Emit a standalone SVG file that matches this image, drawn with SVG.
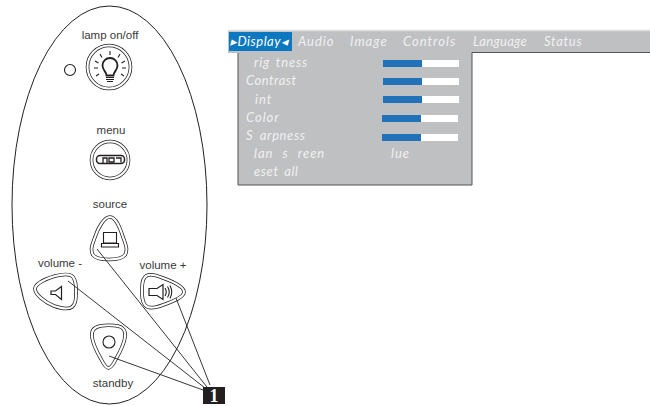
<svg xmlns="http://www.w3.org/2000/svg" width="650" height="406" viewBox="0 0 650 406">
<style>
.o{fill:none;stroke:#231f20;stroke-width:1}
.d{fill:none;stroke:#231f20;stroke-width:3.600}
.i{fill:none;stroke:#fff;stroke-width:2.100}
.g{fill:none;stroke:#231f20}
.l{font-family:"Liberation Sans",Arial,sans-serif;font-size:11.500px;fill:#3a3839;text-anchor:middle}
.m{font-family:Lato,"Open Sans",sans-serif;font-style:italic;font-weight:400;font-size:13px;fill:#f0f0f0;letter-spacing:1px;word-spacing:2px}
.w{fill:#fff}.b{fill:#2272b9}
</style>
<defs>
<path id="p-source" d="M110 217C116 217 120 228 123 237C126 245 128 250 125 255C122 259 116 259.500 109 259.500C102 259.500 96 259 93 255C90 250 92 245 95 237C98 228 104 217 110 217Z"/>
<path id="p-vminus" d="M35 289C35 284 45 279 55 276C63 274 70 273 73 277C76 281 76 285 76 291C76 298 76 304 72 307C68 310 60 308 54 306C44 302 35 294 35 289Z"/>
<path id="p-vplus" d="M184 292C184 297 174 301 163 305C155 308 148 309 145 305C142 301 142 297 142 291C142 285 142 280 145 277C148 273 156 275 163 278C174 282 184 287 184 292Z"/>
<path id="p-standby" d="M92 337C91 330 95 327 100 326C106 325 112 325 118 326C123 327 126 331 125 337C124 345 120 352 116 359C113 365 111 368 108.500 368C106 368 104 365 101 359C97 352 93 345 92 337Z"/>
</defs>
<rect width="650" height="406" fill="#fff"/>
<g id="remote"><ellipse cx="109.500" cy="205" rx="97.500" ry="199" class="o"/></g>
<g id="lamp">
<text x="110" y="38.500" class="l">lamp on/off</text>
<circle cx="70" cy="70" r="5.500" class="g" stroke-width="1.100"/>
<circle cx="109" cy="67" r="21.500" class="d"/><circle cx="109" cy="67" r="21.500" class="i"/>
<path d="M106.500 75.500c0-4-4-5-4-10a7.500 7.500 0 0 1 15 0c0 5-4 6-4 10z" class="g" stroke-width="1.800"/>
<path d="M106 77.500h8M106 79.500h8M107 81.500h6" stroke="#231f20" stroke-width="1.200"/>
<path d="M110 51v4M100 54l2 3.500M120 54l-2 3.500M95 61l3.500 2M125 61l-3.500 2M94 68h4M122 68h4M96 76l3-2M124 76l-3-2" stroke="#231f20" stroke-width="1.100"/>
</g>
<g id="menu">
<text x="111" y="134" class="l">menu</text>
<circle cx="110" cy="160" r="18.500" class="d"/><circle cx="110" cy="160" r="18.500" class="i"/>
<rect x="96.500" y="155.500" width="28" height="8" rx="3.500" class="g" stroke-width="1.500"/>
<path d="M103 163v-5h4v5M109 158h5v4h-5zM116 158h5v4.500" class="g" stroke-width="1.300"/>
</g>
<g id="source">
<text x="110" y="208" class="l">source</text>
<use href="#p-source" class="d"/><use href="#p-source" class="i"/>
<path d="M103.500 232.500h13v10.500h-13z" class="g" stroke-width="1.100"/>
<path d="M101.500 243.500h17v3.500h-17z" class="g" stroke-width="1.100"/>
</g>
<g id="volume-minus">
<text x="60" y="267" class="l">volume -</text>
<use href="#p-vminus" class="d"/><use href="#p-vminus" class="i"/>
<path d="M61.500 286.500v13l-6-5h-4.500v-3.500h4.500z" class="g" stroke-width="1.200"/>
</g>
<g id="volume-plus">
<text x="163" y="269" class="l">volume +</text>
<use href="#p-vplus" class="d"/><use href="#p-vplus" class="i"/>
<path d="M149 288.500h8l6-4v15l-6-4h-8z" class="g" stroke-width="1.200"/>
<path d="M165 288q2.500 4 0 8M167.500 286.500q3.500 5.500 0 11M170 285.500q3.500 6.500 0 13" class="g" stroke-width="1.100"/>
</g>
<g id="standby">
<text x="113" y="387" class="l">standby</text>
<use href="#p-standby" class="d"/><use href="#p-standby" class="i"/>
<circle cx="109" cy="342" r="6" class="g" stroke-width="1.100"/>
</g>
<g id="connectors" stroke="#231f20" stroke-width=".9" fill="none">
<path d="M97 249L207 387M68 281L205 388M109 356L203 390M176 298L210 385"/>
</g>
<g id="callout">
<rect x="203" y="387" width="22" height="17" fill="#231f20"/>
<text x="214" y="402" font-family="Liberation Serif,serif" font-weight="700" font-size="18" fill="#fff" text-anchor="middle">1</text>
</g>
<g id="osd">
<rect x="228" y="31" width="422" height="22" fill="#bfc0c2"/>
<path d="M228 30.500H650" stroke="#dedede" stroke-width="1.500"/>
<rect x="238" y="52" width="234" height="133" fill="#bfc0c2"/>
<path d="M238 53V185H472V52.500H650" fill="none" stroke="#555" stroke-width="1"/>
<rect x="229" y="32" width="63" height="19" fill="#0b78bf"/>
<text x="230" y="46" class="m" style="fill:#fff;letter-spacing:.5px">&#x25B8;Display&#x25C2;</text>
<text x="298" y="46" class="m">Audio</text><text x="350" y="46" class="m">Image</text><text x="403" y="46" class="m">Controls</text><text x="473" y="46" class="m" style="letter-spacing:.3px">Language</text><text x="544" y="46" class="m" style="letter-spacing:.7px">Status</text>
<text x="254" y="67" class="m" style="letter-spacing:.8px">rig tness</text><text x="246" y="85" class="m" style="letter-spacing:.5px">Contrast</text><text x="255" y="104" class="m">int</text><text x="246" y="122" class="m">Color</text><text x="246" y="140" class="m" style="word-spacing:3px;letter-spacing:.6px">S arpness</text><text x="254" y="158" class="m" style="word-spacing:5px">lan s reen</text><text x="391" y="158" class="m">lue</text><text x="254" y="176" class="m" style="letter-spacing:.6px">eset all</text>
<rect x="383" y="60" width="76" height="7" class="w"/><rect x="383" y="60" width="39" height="7" class="b"/>
<rect x="383" y="78" width="76" height="7" class="w"/><rect x="383" y="78" width="39" height="7" class="b"/>
<rect x="383" y="96" width="76" height="7" class="w"/><rect x="383" y="96" width="39" height="7" class="b"/>
<rect x="382" y="115" width="76" height="7" class="w"/><rect x="382" y="115" width="39" height="7" class="b"/>
<rect x="382" y="134" width="76" height="7" class="w"/><rect x="382" y="134" width="39" height="7" class="b"/>
</g>
</svg>
